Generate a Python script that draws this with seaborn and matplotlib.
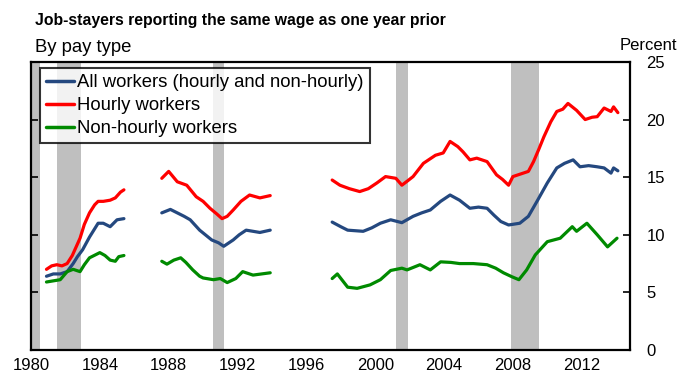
import matplotlib
matplotlib.use('Agg')
import matplotlib.pyplot as plt
import seaborn as sns
import pandas as pd

# values (percent), three survey segments per series
seg1_hourly = [(1980.9, 7.0), (1981.2, 7.3), (1981.5, 7.4), (1981.8, 7.3), (1982.1, 7.5), (1982.4, 8.2),
               (1982.85, 9.7), (1983.1, 10.9), (1983.4, 11.9), (1983.7, 12.6), (1983.9, 12.9), (1984.2, 12.9),
               (1984.6, 13.0), (1984.9, 13.2), (1985.2, 13.7), (1985.4, 13.9)]
seg1_all = [(1980.9, 6.4), (1981.3, 6.6), (1981.7, 6.6), (1982.1, 6.8), (1982.45, 7.5), (1982.7, 8.1),
            (1983.0, 8.7), (1983.4, 9.8), (1983.9, 11.0), (1984.2, 11.0), (1984.6, 10.7), (1985.0, 11.3),
            (1985.4, 11.4)]
seg1_nonhourly = [(1980.9, 5.9), (1981.3, 6.0), (1981.7, 6.1), (1982.1, 6.8), (1982.45, 7.0), (1982.85, 6.8),
                  (1983.1, 7.4), (1983.4, 8.0), (1984.0, 8.45), (1984.3, 8.2), (1984.6, 7.8), (1984.9, 7.7),
                  (1985.1, 8.1), (1985.4, 8.2)]

seg2_hourly = [(1987.6, 14.9), (1988.0, 15.5), (1988.5, 14.6), (1989.05, 14.3), (1989.6, 13.3), (1990.0, 12.9),
               (1990.4, 12.3), (1990.8, 11.8), (1991.1, 11.4), (1991.4, 11.6), (1991.75, 12.15), (1992.2, 12.9),
               (1992.7, 13.45), (1993.3, 13.2), (1993.9, 13.4)]
seg2_all = [(1987.6, 11.9), (1988.1, 12.2), (1988.5, 11.9), (1988.9, 11.6), (1989.25, 11.3), (1989.8, 10.4),
            (1990.5, 9.55), (1990.9, 9.3), (1991.2, 9.0), (1991.75, 9.55), (1992.1, 10.0), (1992.5, 10.4),
            (1993.3, 10.2), (1993.9, 10.4)]
seg2_nonhourly = [(1987.6, 7.7), (1987.9, 7.45), (1988.3, 7.8), (1988.7, 8.0), (1989.0, 7.6), (1989.4, 6.95),
                  (1989.8, 6.4), (1990.0, 6.25), (1990.6, 6.1), (1991.0, 6.2), (1991.4, 5.85), (1991.9, 6.2),
                  (1992.3, 6.8), (1992.9, 6.5), (1993.4, 6.6), (1993.9, 6.7)]

seg3_hourly = [(1997.5, 14.75), (1997.95, 14.3), (1998.5, 14.0), (1999.1, 13.75), (1999.6, 14.0), (2000.1, 14.5),
               (2000.6, 15.05), (2001.2, 14.9), (2001.55, 14.3), (2001.9, 14.7), (2002.2, 15.05), (2002.8, 16.2),
               (2003.5, 16.9), (2003.95, 17.1), (2004.35, 18.1), (2004.8, 17.65), (2005.1, 17.2), (2005.5, 16.5),
               (2005.9, 16.65), (2006.5, 16.35), (2007.05, 15.2), (2007.4, 14.8), (2007.75, 14.3), (2008.0, 15.05),
               (2008.5, 15.3), (2008.9, 15.5), (2009.2, 16.35), (2009.5, 17.4), (2009.8, 18.5), (2010.2, 19.8),
               (2010.55, 20.7), (2010.9, 20.9), (2011.2, 21.4), (2011.7, 20.8), (2012.2, 20.0), (2012.6, 20.2),
               (2012.9, 20.25), (2013.3, 21.0), (2013.7, 20.7), (2013.85, 21.1), (2014.1, 20.6)]
seg3_all = [(1997.5, 11.1), (1998.0, 10.7), (1998.4, 10.4), (1999.3, 10.3), (1999.8, 10.6), (2000.3, 11.0),
            (2000.9, 11.3), (2001.55, 11.05), (2002.2, 11.6), (2002.7, 11.9), (2003.2, 12.15), (2003.8, 12.9),
            (2004.35, 13.45), (2004.9, 13.0), (2005.5, 12.3), (2006.0, 12.4), (2006.5, 12.3), (2006.9, 11.7),
            (2007.3, 11.15), (2007.75, 10.85), (2008.4, 11.0), (2008.9, 11.6), (2009.4, 12.9), (2010.0, 14.5),
            (2010.55, 15.8), (2011.0, 16.2), (2011.5, 16.5), (2011.9, 15.9), (2012.4, 16.0), (2012.9, 15.9),
            (2013.3, 15.8), (2013.7, 15.35), (2013.85, 15.8), (2014.1, 15.55)]
seg3_nonhourly = [(1997.5, 6.2), (1997.8, 6.6), (1998.4, 5.45), (1998.95, 5.35), (1999.7, 5.65), (2000.3, 6.1),
                  (2000.9, 6.9), (2001.55, 7.1), (2001.85, 6.95), (2002.6, 7.4), (2003.2, 6.95), (2003.8, 7.65),
                  (2004.4, 7.6), (2004.9, 7.5), (2005.7, 7.5), (2006.5, 7.4), (2007.0, 7.1), (2007.45, 6.7),
                  (2007.95, 6.35), (2008.35, 6.1), (2008.8, 6.95), (2009.3, 8.25), (2010.0, 9.4), (2010.75, 9.7),
                  (2011.45, 10.7), (2011.7, 10.3), (2012.3, 11.0), (2012.9, 10.0), (2013.5, 8.95), (2014.05, 9.7)]

series_names = ["All workers (hourly and non-hourly)", "Hourly workers", "Non-hourly workers"]
series_colors = ["#24487F", "#FF0000", "#008A00"]

recessions = [(1980.0, 1980.55), (1981.5, 1982.9), (1990.55, 1991.2), (2001.2, 2001.9), (2007.9, 2009.5)]

xticks = [1980, 1984, 1988, 1992, 1996, 2000, 2004, 2008, 2012]
yticks = [0, 5, 10, 15, 20, 25]

rows = []
segments = {
    series_names[0]: [seg1_all, seg2_all, seg3_all],
    series_names[1]: [seg1_hourly, seg2_hourly, seg3_hourly],
    series_names[2]: [seg1_nonhourly, seg2_nonhourly, seg3_nonhourly],
}
for name, segs in segments.items():
    for k, seg in enumerate(segs):
        for yr, v in seg:
            rows.append({"year": yr, "value": v, "series": name, "segment": k})
df = pd.DataFrame(rows)

sns.set_style("white")
plt.rcParams['font.family'] = ['Liberation Sans', 'DejaVu Sans']
plt.rcParams['text.color'] = 'black'
plt.rcParams['xtick.color'] = 'black'
plt.rcParams['ytick.color'] = 'black'
plt.rcParams['axes.labelcolor'] = 'black'

fig = plt.figure(figsize=(6.81, 3.8), dpi=100)
ax = fig.add_axes([0.0455, 0.079, 0.8795, 0.758])

for a, b in recessions:
    ax.axvspan(a, b, color="#BFBFBF", lw=0, zorder=0)

sns.lineplot(data=df, x="year", y="value", hue="series", units="segment", estimator=None,
             hue_order=series_names, palette=series_colors, lw=2.3, ax=ax, zorder=3)

ax.set_xlim(1980, 2014.8)
ax.set_ylim(0, 25)
ax.set_xticks(xticks)
ax.set_yticks(yticks)
ax.set_xlabel("")
ax.set_ylabel("")
ax.yaxis.tick_right()
ax.tick_params(axis="y", which="both", left=True, right=True, direction="in", length=5, width=1.2,
               labelsize=12, pad=12, colors="black")
ax.tick_params(axis="x", direction="in", length=5, width=1.2, labelsize=12, pad=6, top=False,
               colors="black")
for s in ax.spines.values():
    s.set_color("black")
    s.set_linewidth(1.6)

leg = ax.legend(loc="upper left", bbox_to_anchor=(0.015, 0.98), fontsize=13.3, frameon=True,
                fancybox=False, handlelength=1.5, handletextpad=0.15, borderpad=0.35,
                labelspacing=0.32, borderaxespad=0)
leg.get_frame().set_edgecolor("black")
leg.get_frame().set_linewidth(1.5)
for line in leg.get_lines():
    line.set_linewidth(2.5)
for t in leg.get_texts():
    t.set_color("black")

fig.text(35 / 681, 1 - 21 / 380, "Job-stayers reporting the same wage as one year prior",
         fontsize=11.3, fontweight="bold", va="center", ha="left")
fig.text(35 / 681, 1 - 47 / 380, "By pay type", fontsize=13.3, va="center", ha="left")
fig.text(677 / 681, 1 - 45 / 380, "Percent", fontsize=12, va="center", ha="right")

fig.savefig("out.png", dpi=100)
